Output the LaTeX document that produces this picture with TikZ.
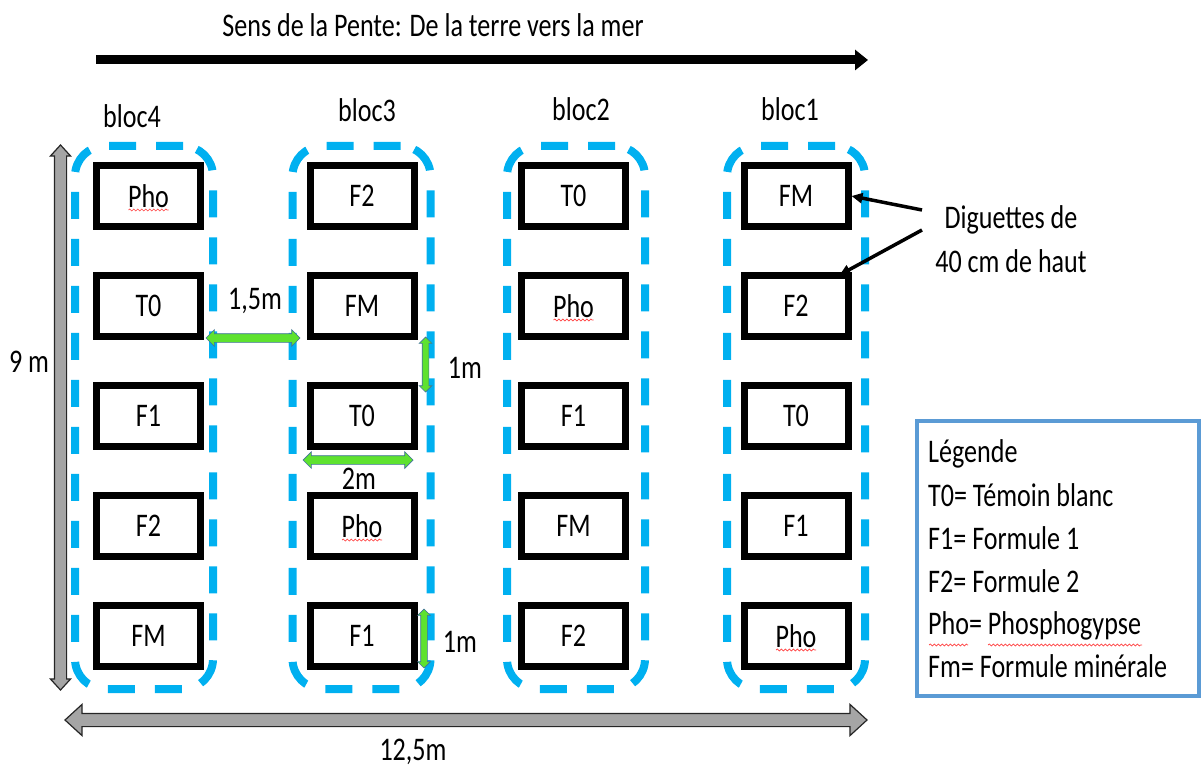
\documentclass[tikz,border=0pt]{standalone}
\usepackage{fontspec}
\setmainfont{Carlito}[FakeStretch=0.79]
\usetikzlibrary{arrows.meta,shapes.arrows,calc,decorations.pathmorphing}
\definecolor{blocblue}{RGB}{0,176,240}
\definecolor{legblue}{RGB}{91,155,213}
\definecolor{dimgreen}{RGB}{94,226,47}
\definecolor{dimedge}{RGB}{65,113,156}
\definecolor{stone}{RGB}{165,165,165}
\begin{document}
\begin{tikzpicture}[x=1pt,y=-1pt,
  every node/.style={font=\fontsize{33}{40}\selectfont, inner sep=0pt},
  plot/.style={draw, line width=7pt, minimum width=104pt, minimum height=61pt},
  bloc/.style={draw=blocblue, line width=8pt, dash pattern=on 27pt off 20pt,
    rounded corners=30pt, minimum width=138pt, minimum height=543pt},
  stonearrow/.style={double arrow, fill=stone, draw=black!85, line width=1.2pt,
    double arrow tip angle=85, inner xsep=0pt},
  greenarrow/.style={double arrow, fill=dimgreen, draw=dimedge, line width=0.7pt,
    double arrow tip angle=90, inner xsep=0pt},
  wavy/.style={draw=red!75, line width=0.7pt, decorate,
    decoration={snake, amplitude=1pt, segment length=4pt}},
  pointer/.style={line width=3.5pt, -{Triangle[length=11pt,width=10pt]}}]
\useasboundingbox (0,0) rectangle (1202,767);

% slope direction
\node[anchor=base] (title) at (433,37) {Sens de la Pente: De la terre vers la mer};
\coordinate (s0) at (96,60);
\coordinate (s1) at (868,60);
\draw[line width=9pt, -{Triangle[length=13pt,width=20pt]}] (s0) -- (s1);

% blocks
\node[bloc] (B4) at (144,417.5) {};
\node[bloc] (B3) at (361.5,417.5) {};
\node[bloc] (B2) at (576,417.5) {};
\node[bloc] (B1) at (796,417.5) {};
\node[anchor=base] (L4) at (132,128) {bloc4};
\node[anchor=base] (L3) at (367,122) {bloc3};
\node[anchor=base] (L2) at (581,121) {bloc2};
\node[anchor=base] (L1) at (790,121) {bloc1};

% plots, block 4
\node[plot] (b41) at (148.5,196) {Pho};
\node[plot] (b42) at (148.5,306) {T0};
\node[plot] (b43) at (148.5,415.5) {F1};
\node[plot] (b44) at (148.5,526) {F2};
\node[plot] (b45) at (148.5,636) {FM};
% plots, block 3
\node[plot] (b31) at (362,196) {F2};
\node[plot] (b32) at (362,306) {FM};
\node[plot] (b33) at (362,415.5) {T0};
\node[plot] (b34) at (362,526) {Pho};
\node[plot] (b35) at (362,636) {F1};
% plots, block 2
\node[plot] (b21) at (573.5,196) {T0};
\node[plot] (b22) at (573.5,306) {Pho};
\node[plot] (b23) at (573.5,415.5) {F1};
\node[plot] (b24) at (573.5,526) {FM};
\node[plot] (b25) at (573.5,636) {F2};
% plots, block 1
\node[plot] (b11) at (796,196) {FM};
\node[plot] (b12) at (796,306) {F2};
\node[plot] (b13) at (796,415.5) {T0};
\node[plot] (b14) at (796,526) {F1};
\node[plot] (b15) at (796,636) {Pho};

% spell-check marks
\foreach \p in {b41,b34,b22,b15}
  \path[wavy] ($(\p.center)+(-20,14)$) -- ++(40,0);

% spacing dimensions
\node[greenarrow, minimum height=94pt, inner ysep=4pt, double arrow head extend=4pt] (g1) at (253,338) {};
\node[anchor=base] (d1) at (255,309) {1,5m};
\node[greenarrow, rotate=90, minimum height=55pt, inner ysep=3pt, double arrow head extend=3pt] (g2) at (425.5,364.5) {};
\node[anchor=base] (d2) at (465,378) {1m};
\node[anchor=base] (d3) at (359,489) {2m};
\node[greenarrow, minimum height=110pt, inner ysep=4pt, double arrow head extend=4pt] (g3) at (358,460) {};
\node[greenarrow, rotate=90, minimum height=59pt, inner ysep=3pt, double arrow head extend=3pt] (g4) at (424,638.5) {};
\node[anchor=base] (d4) at (460,652) {1m};

% field size
\node[stonearrow, rotate=90, minimum height=545pt, inner ysep=5.5pt, double arrow head extend=4pt] (v) at (60.5,417.5) {};
\node[anchor=base] (h9) at (29,372) {9 m};
\node[stonearrow, minimum height=802pt, inner ysep=6pt, double arrow head extend=9pt] (h) at (466,720) {};
\node[anchor=base] (w12) at (413,760) {12,5m};

% bunds
\node[anchor=base] (dg) at (1011,229) {Diguettes de};
\node[anchor=base] (dh) at (1011,273) {40 cm de haut};
\coordinate (p1) at (922,210);
\coordinate (p2) at (922,230);
\draw[pointer] (p1) -- (b11.east);
\draw[pointer] (p2) -- ($(b12.north east)+(-12,3)$);

% legend
\node[draw=legblue, line width=4pt, minimum width=282pt, minimum height=275pt] (leg) at (1058,558.5) {};
\node[anchor=base west] (e1) at (928,462) {Légende};
\node[anchor=base west] (e2) at (928,506) {T0= Témoin blanc};
\node[anchor=base west] (e3) at (928,549) {F1= Formule 1};
\node[anchor=base west] (e4) at (928,592) {F2= Formule 2};
\node[anchor=base west] (e5) at (928,634) {Pho= Phosphogypse};
\node[anchor=base west] (e6) at (928,677) {Fm= Formule minérale};
\path[wavy] (929,645) -- (968,645);
\path[wavy] (988,645) -- (1142,645);
\end{tikzpicture}
\end{document}
